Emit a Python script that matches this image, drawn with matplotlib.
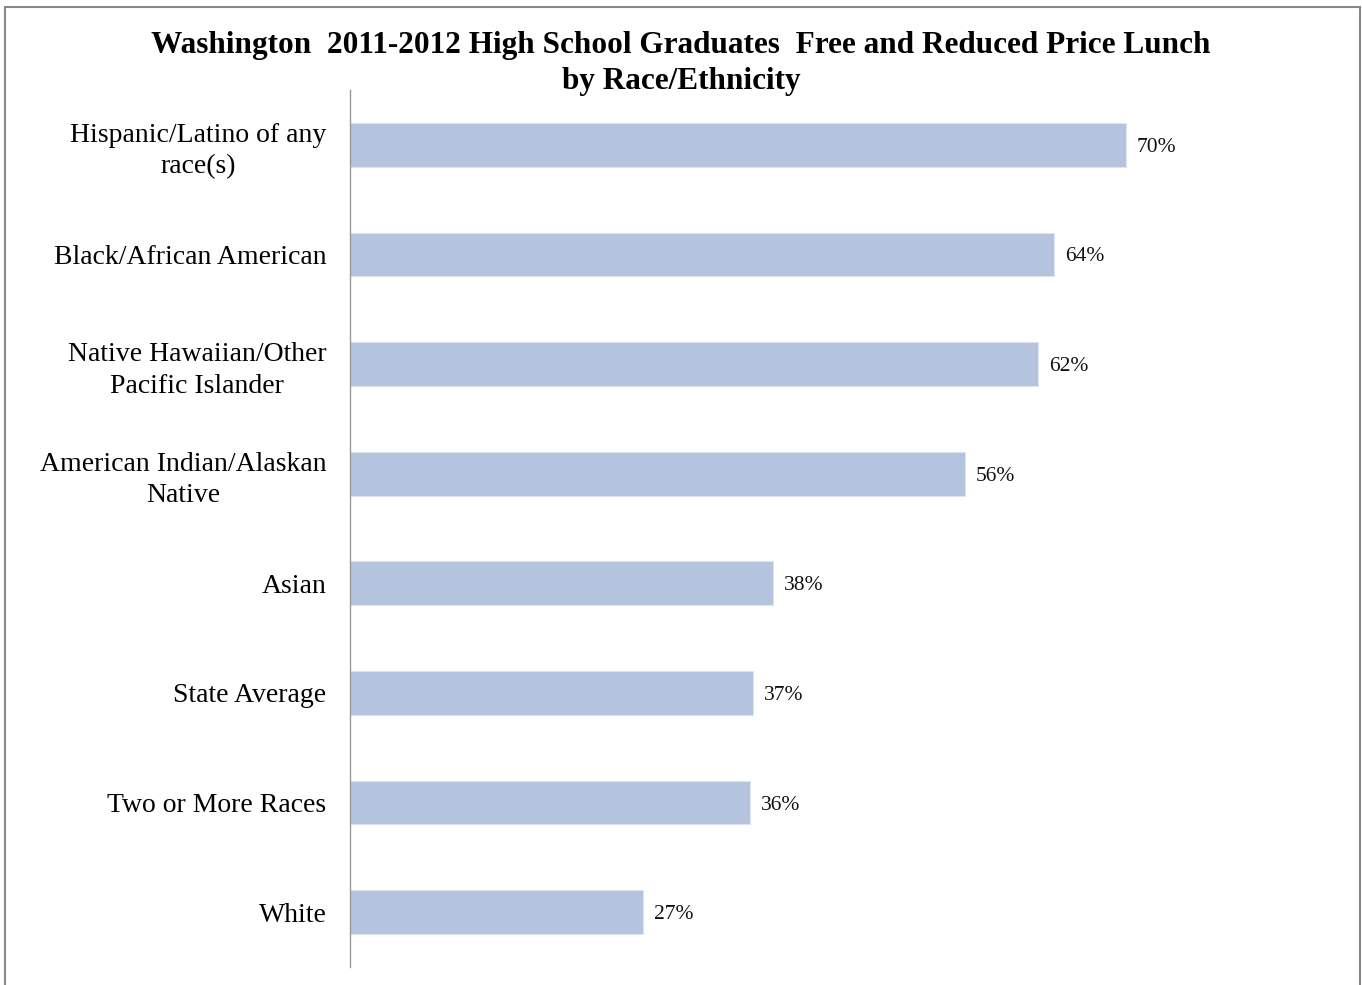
import matplotlib.pyplot as plt
from matplotlib.patches import Rectangle

# FRL share by race/ethnicity, 2011-2012 graduates (percent)
groups = [
    "Hispanic/Latino of any\nrace(s)",
    "Black/African American",
    "Native Hawaiian/Other\nPacific Islander",
    "American Indian/Alaskan\nNative",
    "Asian",
    "State Average",
    "Two or More Races",
    "White",
]
frl_pct = [69.9, 63.4, 62.0, 55.4, 38.1, 36.3, 36.0, 26.4]
pct_labels = ["70%", "64%", "62%", "56%", "38%", "37%", "36%", "27%"]

plt.rcParams['font.family'] = ['Liberation Serif', 'DejaVu Serif']

fig = plt.figure(figsize=(13.62, 9.85), dpi=100)
ax = fig.add_axes([350 / 1362, 18 / 985, 888 / 1362, 877 / 985])

ypos = list(range(len(groups)))
ax.barh(ypos, frl_pct, height=0.4, color='#b4c3de', edgecolor='#dde4f0', linewidth=0.8)
for y, v, lab in zip(ypos, frl_pct, pct_labels):
    ax.text(v + 1.0, y, lab, va='center_baseline', ha='left', fontsize=15.5, color='#111111')

ax.set_xlim(0, 80)
ax.set_ylim(len(groups) - 0.5, -0.5)
ax.set_yticks(ypos)
ax.set_yticklabels(groups, fontsize=20, ha='right', multialignment='center', linespacing=1.35)
ax.tick_params(axis='y', length=0, pad=17)
ax.set_xticks([])
for side in ['top', 'right', 'bottom']:
    ax.spines[side].set_visible(False)
ax.spines['left'].set_color('#999999')
ax.spines['left'].set_linewidth(1.0)

fig.text(0.5, 1 - 45 / 985, "Washington  2011-2012 High School Graduates  Free and Reduced Price Lunch",
         ha='center', va='center', fontsize=22.5, fontweight='bold')
fig.text(0.5, 1 - 81 / 985, "by Race/Ethnicity",
         ha='center', va='center', fontsize=22.5, fontweight='bold')

# gray frame around the chart
fig.patches.append(Rectangle((5 / 1362, -0.01), 1355 / 1362, 1 - 7 / 985 + 0.01,
                             transform=fig.transFigure, fill=False,
                             edgecolor='#888888', linewidth=1.5))

fig.savefig('out.png', dpi=100)
